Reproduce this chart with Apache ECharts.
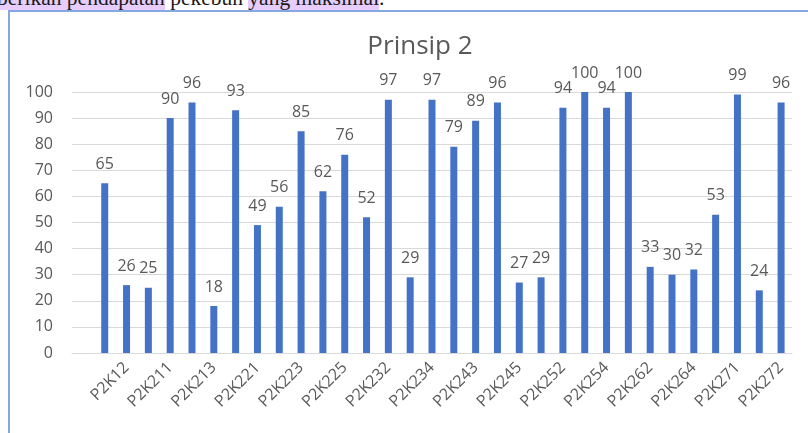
<!DOCTYPE html>
<html>
<head>
<meta charset="utf-8">
<script src="https://cdn.jsdelivr.net/npm/echarts@6/dist/echarts.min.js"></script>
<style>
  html, body { margin: 0; padding: 0; background: #ffffff; }
  body { width: 808px; height: 433px; position: relative; overflow: hidden; }
  #doc {
    position: absolute; left: -3px; top: -15px;
    font-family: "Liberation Serif", "DejaVu Serif", serif;
    font-size: 21.5px; line-height: 26px; color: #1a1a1a; white-space: nowrap;
  }
  #doc .hl { background: #e6cdfd; }
  #frame {
    position: absolute; left: 8px; top: 10px; width: 900px; height: 500px;
    border-left: 2px solid #86a7e2; border-top: 2px solid #86a7e2;
  }
  #chart { position: absolute; left: 0; top: 0; width: 808px; height: 433px; }
</style>
</head>
<body>
<div id="doc"><span class="hl">berikan pendapatan</span> pekebun <span class="hl">yang maksimal</span>.</div>
<div id="frame"></div>
<div id="chart"></div>
<script>
// Chart title
const chartTitle = 'Prinsip 2';

// Indicator codes (the first slot is left blank)
const categories = [
  '', 'P2K11', 'P2K12', 'P2K13', 'P2K211', 'P2K212', 'P2K213', 'P2K214', 'P2K221',
  'P2K222', 'P2K223', 'P2K224', 'P2K225', 'P2K231', 'P2K232', 'P2K233', 'P2K234',
  'P2K241', 'P2K243', 'P2K244', 'P2K245', 'P2K251', 'P2K252', 'P2K253', 'P2K254',
  'P2K261', 'P2K262', 'P2K263', 'P2K264', 'P2K265', 'P2K271', 'P2K2711', 'P2K272'
];

// Scores per indicator
const scores = [
  null, 65, 26, 25, 90, 96, 18, 93, 49,
  56, 85, 62, 76, 52, 97, 29, 97,
  79, 89, 96, 27, 29, 94, 100, 94,
  100, 33, 30, 32, 53, 99, 24, 96
];

// Value axis range
const yMin = 0;
const yMax = 100;
const yStep = 10;

const textColor = '#595959';
const fontFamily = '"Open Sans", "Noto Sans", sans-serif';

const chart = echarts.init(document.getElementById('chart'), null, { renderer: 'canvas' });
chart.setOption({
  animation: false,
  backgroundColor: 'transparent',
  title: {
    text: chartTitle,
    left: 415,
    top: 29,
    textAlign: 'center',
    textStyle: { color: textColor, fontSize: 26, fontWeight: 'normal', fontFamily: fontFamily }
  },
  grid: { left: 72, right: 16, top: 92, bottom: 80, containLabel: false },
  xAxis: {
    type: 'category',
    data: categories,
    boundaryGap: true,
    axisLine: { show: true, lineStyle: { color: '#d9d9d9', width: 1 } },
    axisTick: { show: false },
    axisLabel: {
      interval: 1,
      rotate: 45,
      margin: 12,
      color: textColor,
      fontSize: 16,
      fontFamily: fontFamily
    }
  },
  yAxis: {
    type: 'value',
    min: yMin,
    max: yMax,
    interval: yStep,
    axisLine: { show: false },
    axisTick: { show: false },
    splitLine: { lineStyle: { color: '#d9d9d9', width: 1 } },
    axisLabel: { color: textColor, fontSize: 16, fontFamily: fontFamily, margin: 19 }
  },
  series: [{
    type: 'bar',
    data: scores,
    barWidth: 7,
    itemStyle: { color: '#4472c4' },
    label: {
      show: true,
      position: 'top',
      distance: 11,
      color: textColor,
      fontSize: 16,
      fontFamily: fontFamily
    }
  }]
});
</script>
</body>
</html>
